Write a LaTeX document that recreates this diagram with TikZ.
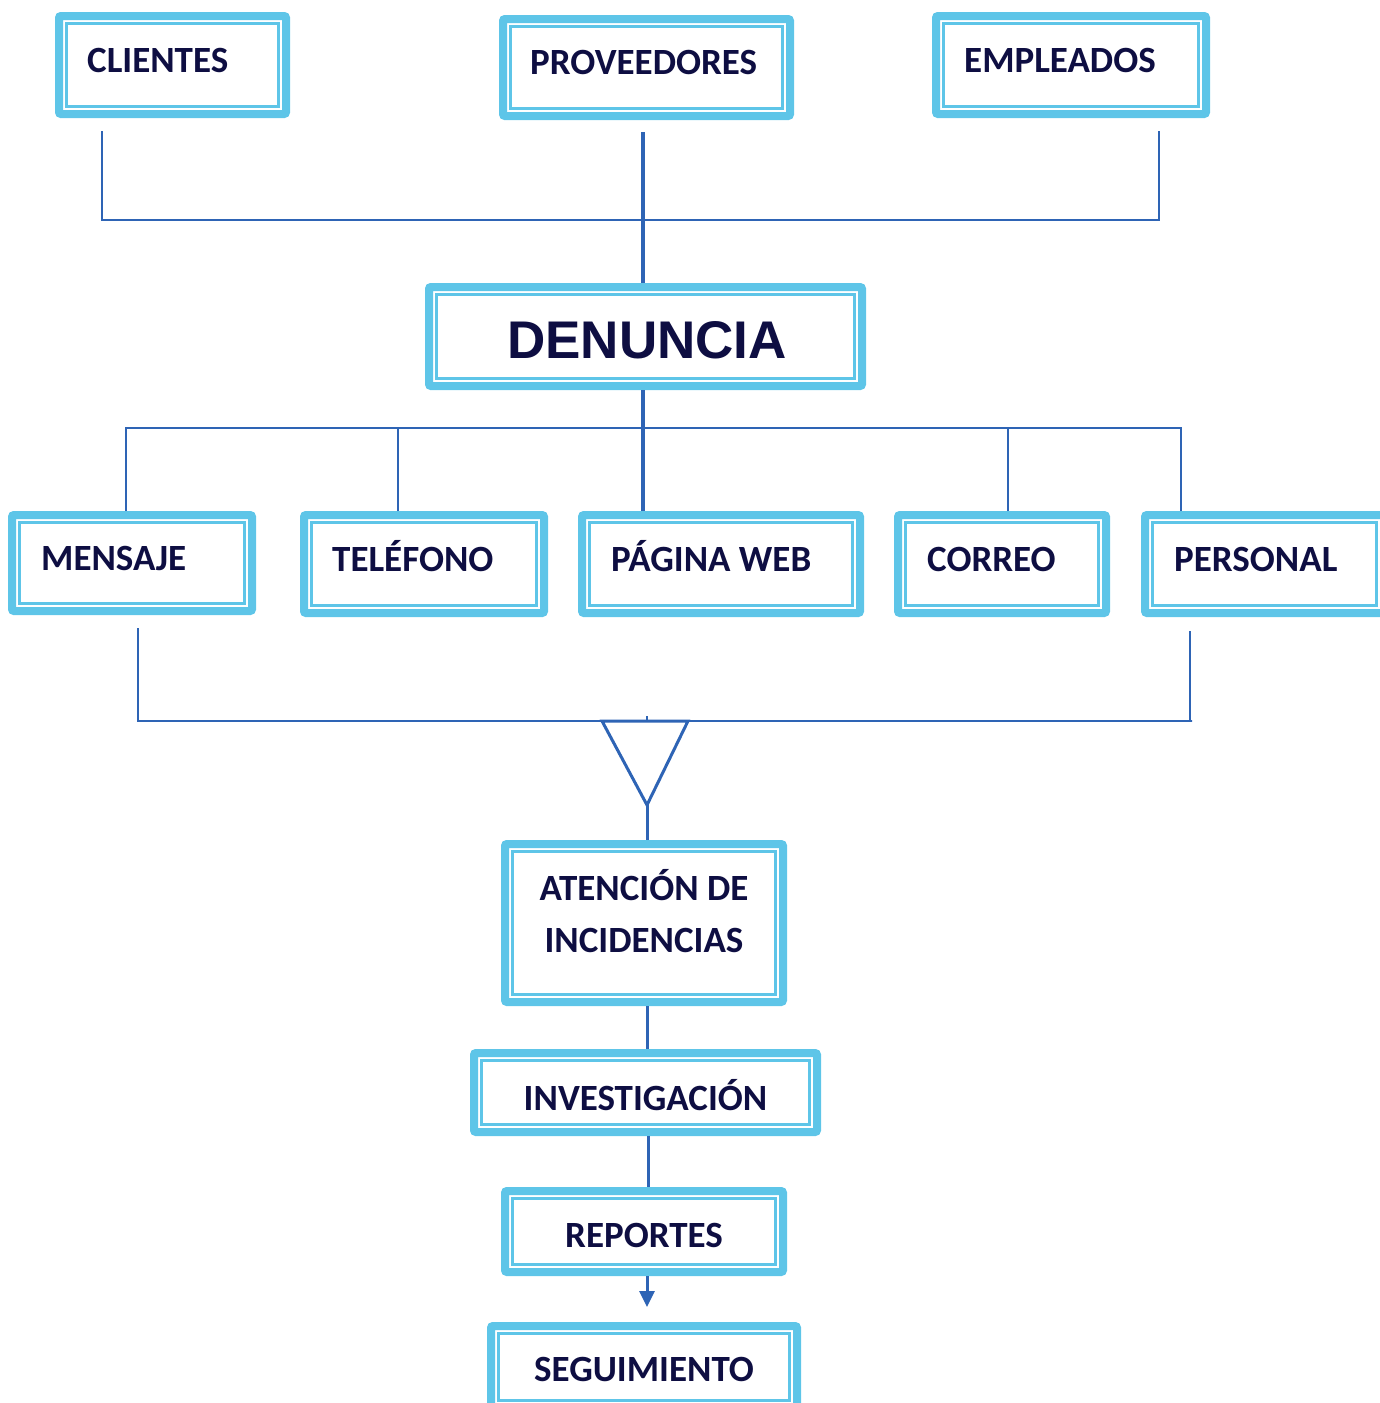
\documentclass[tikz,border=0pt]{standalone}
\usepackage{fontspec}
\setmainfont{Carlito}
\newfontfamily\arialfont{Liberation Sans}
\usetikzlibrary{arrows.meta,calc}
\definecolor{boxblue}{RGB}{94,197,232}
\definecolor{lineblue}{RGB}{46,100,181}
\definecolor{navy}{RGB}{14,14,66}
\begin{document}
\begin{tikzpicture}[x=1pt,y=-1pt,
  bx/.style={draw=boxblue, line width=8pt, fill=white, rounded corners=2pt,
    path picture={\draw[boxblue, line width=2.5pt, sharp corners]
      ([shift={(7.3pt,-7.3pt)}]path picture bounding box.north west) rectangle
      ([shift={(-7.3pt,7.3pt)}]path picture bounding box.south east);}},
  txt/.style={font=\bfseries\fontsize{37}{52}\selectfont, text=navy, inner sep=0pt},
  ln/.style={draw=lineblue, line width=2pt},
  thk/.style={draw=lineblue, line width=4pt},
  mid/.style={draw=lineblue, line width=3pt}]
  \useasboundingbox (0,0) rectangle (1380,1403);

  %% sources
  \node[bx, minimum width=227, minimum height=98] (cli) at (172.5,65) {};
  \node[bx, minimum width=287, minimum height=97] (pro) at (646.5,67.5) {};
  \node[bx, minimum width=270, minimum height=98] (emp) at (1071,65) {};
  \node[txt, anchor=base west] (cliT) at ([xshift=32pt,yshift=-7pt]cli.west) {CLIENTES};
  \node[txt, anchor=base west] (proT) at ([xshift=31pt,yshift=-7pt]pro.west) {PROVEEDORES};
  \node[txt, anchor=base west] (empT) at ([xshift=32pt,yshift=-7pt]emp.west) {EMPLEADOS};

  %% denuncia
  \node[bx, minimum width=433, minimum height=99] (den) at (645.5,336.5) {};
  \node[txt, font=\arialfont\bfseries\fontsize{53}{60}\selectfont, anchor=base]
    (denT) at ([xshift=1.5pt,yshift=-21.5pt]den.center) {DENUNCIA};

  %% channels
  \node[bx, minimum width=240, minimum height=96] (men) at (132,563) {};
  \node[bx, minimum width=240, minimum height=98] (tel) at (424,564) {};
  \node[bx, minimum width=278, minimum height=98] (pag) at (721,564) {};
  \node[bx, minimum width=208, minimum height=98] (cor) at (1002,564) {};
  \node[bx, minimum width=239, minimum height=98] (per) at (1264.5,564) {};
  \node[txt, anchor=base west] (menT) at ([xshift=33pt,yshift=-7pt]men.west) {MENSAJE};
  \node[txt, anchor=base west] (telT) at ([xshift=32pt,yshift=-7pt]tel.west) {TELÉFONO};
  \node[txt, anchor=base west] (pagT) at ([xshift=33pt,yshift=-7pt]pag.west) {PÁGINA WEB};
  \node[txt, anchor=base west] (corT) at ([xshift=33pt,yshift=-7pt]cor.west) {CORREO};
  \node[txt, anchor=base west] (perT) at ([xshift=33pt,yshift=-7pt]per.west) {PERSONAL};

  %% process
  \node[bx, minimum width=278, minimum height=158] (ate) at (644,923) {};
  \node[bx, minimum width=343, minimum height=79] (inv) at (645.5,1092.5) {};
  \node[bx, minimum width=278, minimum height=81] (rep) at (644,1231.5) {};
  \node[bx, minimum width=306, minimum height=82] (seg) at (644,1367) {};
  \node[txt, align=center, anchor=base] (ateT) at ([yshift=-29.5pt]ate.center) {ATENCIÓN DE\\INCIDENCIAS};
  \node[txt, anchor=base] (invT) at ([yshift=-17.5pt]inv.center) {INVESTIGACIÓN};
  \node[txt, anchor=base] (repT) at ([yshift=-16pt]rep.center) {REPORTES};
  \node[txt, anchor=base] (segT) at ([yshift=-14.5pt]seg.center) {SEGUIMIENTO};

  %% upper connectors
  \coordinate (topbar) at (0,220);
  \draw[ln] ([xshift=-70.5pt,yshift=-13pt]cli.south) -- ([xshift=-70.5pt]cli.south |- topbar)
    -- ([xshift=88pt]emp.south |- topbar) -- ([xshift=88pt,yshift=-13pt]emp.south);
  \draw[thk] ([xshift=-3.5pt,yshift=-12pt]pro.south) -- ([xshift=-2.5pt]den.north);

  %% channel connectors
  \draw[thk] ([xshift=-2.5pt]den.south) -- ([xshift=-2.5pt]den.south |- pag.north);
  \draw[ln] ([xshift=-6pt]men.north) -- ++(0,-83) -| ([xshift=-83.5pt]per.north);
  \draw[ln] ([xshift=-26pt]tel.north) -- ++(0,-83);
  \draw[ln] ([xshift=6pt]cor.north) -- ++(0,-83);

  %% merge
  \coordinate (lowbar) at (0,721);
  \coordinate (merge) at (647,805);
  \draw[ln] ([xshift=6pt,yshift=-13pt]men.south) -- ([xshift=6pt]men.south |- lowbar)
    -- ([xshift=-72.5pt]per.south |- lowbar) -- ([xshift=-74.5pt]per.south |- lowbar)
    -- ([xshift=-74.5pt,yshift=-14pt]per.south);
  \draw[mid, line join=miter] (602,721) -- (688,721) -- (merge) -- cycle;
  \draw[ln] (647,716) -- (647,721);

  %% process connectors
  \draw[mid] (merge) -- (merge |- ate.north);
  \draw[mid] ([xshift=3pt]ate.south) -- ([xshift=3pt]ate.south |- inv.north);
  \draw[mid] ([xshift=3pt]inv.south) -- ([xshift=3pt]inv.south |- rep.north);
  \draw[mid, -{Triangle[width=15pt,length=16pt]}, lineblue]
    ([xshift=3pt]rep.south) -- ([xshift=3pt,yshift=15pt]seg.north);
\end{tikzpicture}
\end{document}
